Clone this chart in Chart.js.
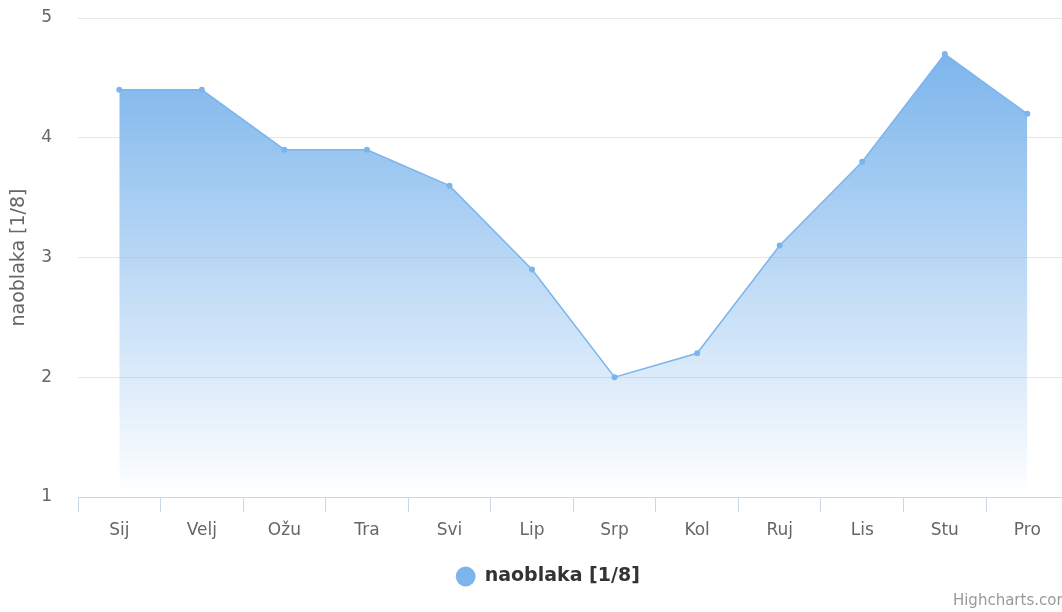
<!DOCTYPE html>
<html>
<head>
<meta charset="utf-8">
<script src="https://cdn.jsdelivr.net/npm/chart.js@4.4.1/dist/chart.umd.min.js"></script>
<style>
  html, body { margin: 0; padding: 0; background: #fff; overflow: hidden; }
  #wrap { width: 1096px; height: 612px; position: relative; }
</style>
</head>
<body>
<div id="wrap"><canvas id="c" width="1096" height="612"></canvas></div>
<script>
const categories = ['Sij', 'Velj', 'Ožu', 'Tra', 'Svi', 'Lip', 'Srp', 'Kol', 'Ruj', 'Lis', 'Stu', 'Pro'];
const cloudValues = [4.4, 4.4, 3.9, 3.9, 3.6, 2.9, 2.0, 2.2, 3.1, 3.8, 4.7, 4.2];
const seriesName = 'naoblaka [1/8]';
const yAxisTitle = 'naoblaka [1/8]';
const yTicks = [1, 2, 3, 4, 5];
const creditText = 'Highcharts.com';

Chart.defaults.font.family = '"DejaVu Sans", sans-serif';

const creditPlugin = {
  id: 'credit',
  afterDraw(chart) {
    const c = chart.ctx;
    c.save();
    c.font = '15px "DejaVu Sans", sans-serif';
    c.fillStyle = '#999999';
    c.textAlign = 'right';
    c.textBaseline = 'alphabetic';
    c.fillText(creditText, 1071, 605);
    c.restore();
  }
};

new Chart(document.getElementById('c'), {
  type: 'line',
  data: {
    labels: categories,
    datasets: [{
      label: seriesName,
      data: cloudValues,
      yAxisID: 'y',
      borderColor: 'rgb(124,181,236)',
      borderWidth: 1.5,
      pointRadius: 3,
      pointBorderWidth: 0,
      pointBackgroundColor: 'rgb(124,181,236)',
      pointStyle: 'circle',
      tension: 0,
      fill: 'start',
      backgroundColor: (ctx) => {
        const chart = ctx.chart;
        const area = chart.chartArea;
        if (!area) return 'rgba(124,181,236,0.5)';
        const top = chart.scales.y.getPixelForValue(Math.max(...cloudValues));
        const g = chart.ctx.createLinearGradient(0, top, 0, area.bottom);
        g.addColorStop(0, 'rgba(124,181,236,1)');
        g.addColorStop(1, 'rgba(124,181,236,0)');
        return g;
      }
    }]
  },
  options: {
    responsive: false,
    animation: false,
    devicePixelRatio: 1,
    layout: { padding: { top: 18, right: 0, bottom: 16, left: 0 } },
    plugins: {
      legend: {
        position: 'bottom',
        labels: {
          usePointStyle: true,
          boxWidth: 19,
          boxHeight: 14,
          color: '#333333',
          font: { size: 19, weight: 'bold' },
          padding: 10
        }
      },
      tooltip: { enabled: false }
    },
    scales: {
      x: {
        offset: true,
        grid: {
          offset: true,
          drawOnChartArea: false,
          drawTicks: true,
          tickLength: 15,
          color: '#ccd6eb'
        },
        border: { display: true, color: '#ccd6eb', width: 1 },
        ticks: { color: '#666666', font: { size: 17 }, padding: 8, maxRotation: 0 },
        afterFit: (scale) => { scale.height = 60; }
      },
      y: {
        min: yTicks[0],
        max: yTicks[yTicks.length - 1],
        afterBuildTicks: (scale) => { scale.ticks = yTicks.map(v => ({ value: v })); },
        grid: { color: '#e6e6e6', drawTicks: false },
        border: { display: false },
        ticks: { color: '#666666', font: { size: 17 }, padding: 26 },
        title: {
          display: true,
          text: yAxisTitle,
          color: '#666666',
          font: { size: 19 },
          padding: { top: 8, bottom: 0 }
        },
        afterFit: (scale) => { scale.width = 78; scale.paddingTop = 0; scale.paddingBottom = 0; }
      },
      yRight: {
        position: 'right',
        min: 0,
        max: 1,
        grid: { drawOnChartArea: false, drawTicks: false, display: false },
        border: { display: false },
        ticks: { display: false },
        afterFit: (scale) => { scale.width = 27.4; }
      }
    }
  },
  plugins: [creditPlugin]
});
</script>
</body>
</html>
